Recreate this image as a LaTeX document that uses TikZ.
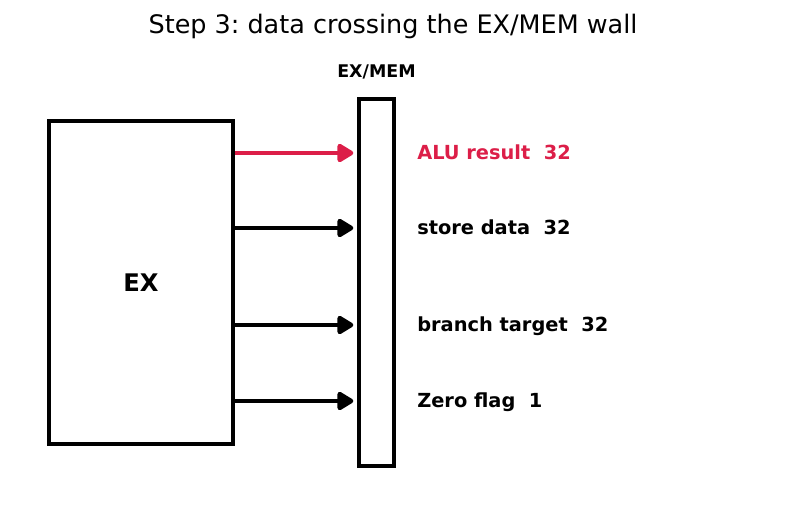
\documentclass[tikz,border=0pt]{standalone}
\usepackage{fontspec}
\setmainfont{DejaVu Sans}
\usetikzlibrary{positioning,arrows.meta}
\definecolor{alured}{RGB}{220,30,72}

\begin{document}
\frenchspacing
\begin{tikzpicture}[x=0.01in, y=-0.01in,
  unit/.style={draw=black, line width=3.2pt, inner sep=0pt},
  flow/.style={draw=#1, line width=3.2pt, shorten >=2.5pt,
    -{Triangle[length=4.6mm, width=5.2mm, round, fill=#1, color=#1]}},
  sig/.style={font=\bfseries\fontsize{14}{16}\selectfont, anchor=west,
    inner sep=0pt, text height=12pt, text depth=3pt}]
\useasboundingbox (0,0) rectangle (787,512);

% title
\node[font=\fontsize{18.4}{21}\selectfont] (title) at (393,26) {Step 3: data crossing the EX/MEM wall};

% stage and pipeline register
\node[unit, minimum width=1.84in, minimum height=3.23in] (ex) at (141,282.5)
  {\bfseries\fontsize{17.5}{20}\selectfont EX};
\node[unit, minimum width=0.35in, minimum height=3.67in] (reg) at (376.5,282.5) {};
\node[font=\bfseries\fontsize{12.6}{15}\selectfont, above=9pt of reg.north, anchor=south] (regname) {EX/MEM};

% signals crossing the wall
\foreach \ry/\lbl/\col/\nm in {153/{ALU result\ \ 32}/alured/alu,
                               228/{store data\ \ 32}/black/store,
                               325/{branch target\ \ 32}/black/branch,
                               401/{Zero flag\ \ 1}/black/zero} {
  \coordinate (\nm-in) at (ex.east |- 0,\ry);
  \coordinate (\nm-out) at (reg.west |- 0,\ry);
  \draw[flow=\col] (\nm-in) -- (\nm-out);
  \node[sig, text=\col] (\nm) at (417,\ry) {\lbl};
}
\end{tikzpicture}
\end{document}
